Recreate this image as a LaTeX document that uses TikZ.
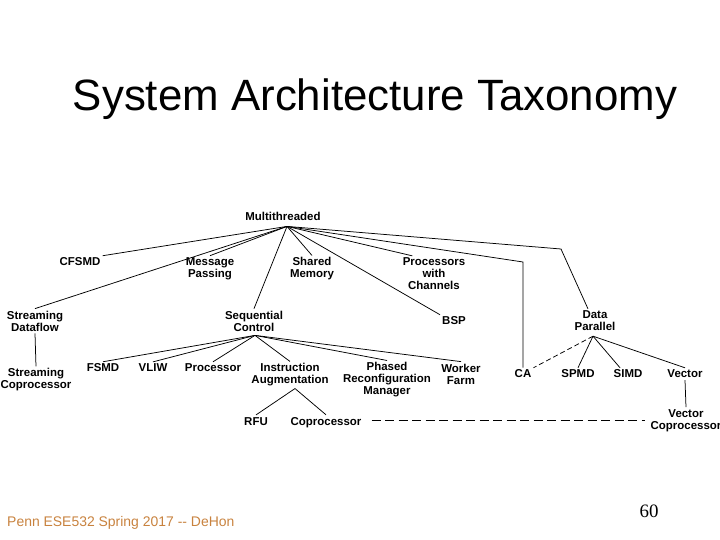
\documentclass[tikz,border=0pt]{standalone}
\usepackage{fontspec}
\setmainfont{Liberation Sans}
\newfontfamily\numfont{Liberation Serif}
\definecolor{footbrown}{RGB}{200,130,62}

\tikzset{
  tax/.style={font=\fontsize{11.5}{12}\selectfont\bfseries, align=center, inner sep=2bp},
  edge/.style={line width=0.75bp},
  dashedge/.style={edge, dash pattern=on 9bp off 4.5bp},
  shortdash/.style={edge, dash pattern=on 5bp off 3bp},
}

\begin{document}
\begin{tikzpicture}[x=1bp,y=-1bp]
\useasboundingbox (0,0) rectangle (720,540);
% title and footer
\node[font=\fontsize{44}{48}\selectfont, anchor=base] (title) at (375,111) {System Architecture Taxonomy};
\node[font=\fontsize{14}{16}\selectfont, text=footbrown, anchor=base west, inner sep=0pt] (foot) at (7,526) {Penn ESE532 Spring 2017 -{}- DeHon};
\node[font=\numfont\fontsize{19}{20}\selectfont, anchor=base, inner sep=0pt] (pagenum) at (649,517) {60};
% taxonomy nodes
\node[tax] (mt) at (283,216) {Multithreaded};
\node[tax] (cfsmd) at (80,262) {CFSMD};
\node[tax] (mp) at (210,269) {Message\\Passing};
\node[tax] (sm) at (312,269) {Shared\\Memory};
\node[tax] (pwc) at (434,274) {Processors\\with\\Channels};
\node[tax] (sd) at (35,321) {Streaming\\Dataflow};
\node[tax] (sc) at (254,321) {Sequential\\Control};
\node[tax] (bsp) at (454,321) {BSP};
\node[tax] (dp) at (595,321) {Data\\Parallel};
\node[tax] (scop) at (36,380) {Streaming\\Coprocessor};
\node[tax] (fsmd) at (103,368) {FSMD};
\node[tax] (vliw) at (153,368) {VLIW};
\node[tax] (proc) at (213,368) {Processor};
\node[tax] (ia) at (290,375) {Instruction\\Augmentation};
\node[tax] (prm) at (387,380) {Phased\\Reconfiguration\\Manager};
\node[tax] (wf) at (461,374) {Worker\\Farm};
\node[tax] (ca) at (523,374) {CA};
\node[tax] (spmd) at (578,374) {SPMD};
\node[tax] (simd) at (628,374) {SIMD};
\node[tax] (vec) at (685,374) {Vector};
\node[tax, anchor=base] (rfu) at (256,425) {RFU};
\node[tax, anchor=base] (cop) at (326,425) {Coprocessor};
\node[tax] (vcop) at (686,420.5) {Vector\\Coprocessor};
% hubs and bends
\coordinate (mthub) at ([xshift=4bp,yshift=-4bp]mt.south);
\coordinate (schub) at ([xshift=1bp,yshift=-2bp]sc.south);
\coordinate (dphub) at ([xshift=-2bp,yshift=-3bp]dp.south);
\coordinate (iahub) at ([xshift=5bp]ia.south);
\coordinate (cabend) at (523,262);
\coordinate (dpbend) at (561,249);
% connectors
\draw[edge] (mthub) -- (cfsmd.north east);
\draw[edge] (mthub) -- (mp.north);
\draw[edge] (mthub) -- (sd.north);
\draw[edge] (mthub) -- (sm.north);
\draw[edge] (mthub) -- (sc.north);
\draw[edge] (mthub) -- (pwc.140);
\draw[edge] (mthub) -- (bsp.north west);
\draw[edge] (mthub) -- (cabend) -- (ca.north);
\draw[edge] (mthub) -- (dpbend) -- (dp.120);
\draw[edge] (sd.south) -- (scop.north);
\draw[edge] (schub) -- (fsmd.north);
\draw[edge] (schub) -- (vliw.north);
\draw[edge] (schub) -- (proc.north);
\draw[edge] (schub) -- (ia.north);
\draw[edge] (schub) -- (prm.north);
\draw[edge] (schub) -- (wf.north);
\draw[edge] (iahub) -- (rfu.north);
\draw[edge] (iahub) -- (cop.north);
\draw[shortdash] (dphub) -- (ca.north east);
\draw[edge] (dphub) -- (spmd.north);
\draw[edge] (dphub) -- ([xshift=-8bp]simd.north);
\draw[edge] (dphub) -- (vec.north);
\draw[edge] (vec.south) -- (vcop.north);
\draw[dashedge] ([xshift=8bp]cop.east |- vcop.west) -- ([xshift=-3bp]vcop.west);
\end{tikzpicture}
\end{document}
